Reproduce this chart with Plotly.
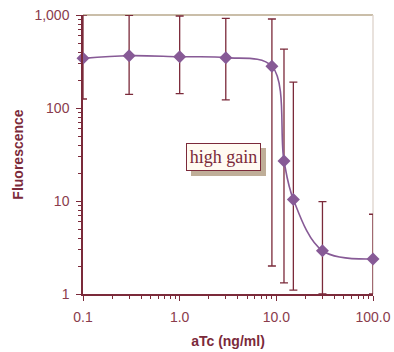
import plotly.graph_objects as go

atc = [0.1, 0.3, 1.0, 3.0, 9.0, 12.0, 15.0, 30.0, 100.0]
fluor = [342, 365, 356, 348, 281, 27, 10.4, 2.92, 2.38]
err_hi = [1000, 990, 975, 920, 906, 430, 190, 9.85, 7.2]
err_lo = [125, 140, 143, 122, 2.0, 1.32, 1.1, 1.0, 1.0]

plus = [h - v for h, v in zip(err_hi, fluor)]
minus = [v - l for l, v in zip(err_lo, fluor)]

maroon = "#7b2a3a"
label_col = "#8a3c4c"
purple = "#875a96"

fig = go.Figure()
fig.add_trace(go.Scatter(
    x=atc, y=fluor, mode="lines+markers",
    line=dict(color=purple, width=1.6, shape="spline", smoothing=1.0),
    marker=dict(symbol="diamond", size=10, color=purple),
    error_y=dict(type="data", symmetric=False, array=plus, arrayminus=minus,
                 color=maroon, thickness=1.3, width=4),
    cliponaxis=False, showlegend=False,
))

fig.update_layout(
    width=394, height=352,
    margin=dict(l=83, r=21, t=15, b=58, autoexpand=False),
    paper_bgcolor="white", plot_bgcolor="white",
    font=dict(family="Liberation Sans, Arial", color=label_col, size=14),
    xaxis=dict(
        type="log", range=[-1, 2], automargin=False,
        tickvals=[0.1, 1, 10, 100], ticktext=["0.1", "1.0", "10.0", "100.0"],
        showgrid=False, zeroline=False,
        showline=True, linecolor=maroon, linewidth=1.5,
        ticks="outside", ticklen=5, tickcolor=maroon, tickwidth=1.2,
        minor=dict(ticks="outside", ticklen=3, tickcolor=maroon, tickwidth=1,
                   tickvals=[0.2,0.3,0.4,0.5,0.6,0.7,0.8,0.9,2,3,4,5,6,7,8,9,20,30,40,50,60,70,80,90]),
        tickfont=dict(size=14, color=label_col),
        ticklabelstandoff=4,
        title=dict(text="<b>aTc (ng/ml)</b>", font=dict(size=14, color=maroon), standoff=13),
    ),
    yaxis=dict(
        type="log", range=[0, 3], automargin=False,
        tickvals=[1, 10, 100, 1000], ticktext=["1", "10", "100", "1,000"],
        showgrid=False, zeroline=False,
        showline=True, linecolor=maroon, linewidth=1.5,
        ticks="outside", ticklen=5, tickcolor=maroon, tickwidth=1.2,
        minor=dict(ticks="outside", ticklen=3, tickcolor=maroon, tickwidth=1,
                   tickvals=[2,3,4,5,6,7,8,9,20,30,40,50,60,70,80,90,200,300,400,500,600,700,800,900]),
        tickfont=dict(size=14, color=label_col),
        ticklabelstandoff=4,
        title=dict(text="<b>Fluorescence</b>", font=dict(size=14, color=maroon), standoff=8),
    ),
    shapes=[
        dict(type="line", xref="paper", yref="paper", x0=0, x1=1, y0=1, y1=1,
             line=dict(color="#b9a98c", width=1.3), layer="below"),
        dict(type="line", xref="paper", yref="paper", x0=1, x1=1, y0=0, y1=1,
             line=dict(color="#ddd3cb", width=1.3), layer="below"),
        dict(type="rect", xref="paper", yref="paper",
             x0=(191-83)/290, x1=(266-83)/290, y0=1-(176-15)/279, y1=1-(148-15)/279,
             fillcolor="#bfae98", line=dict(width=0)),
    ],
    annotations=[
        dict(xref="paper", yref="paper", x=(223.5-83)/290, y=1-(157-15)/279,
             text="high gain", showarrow=False,
             font=dict(family="Liberation Serif, Times New Roman, serif", size=18, color=maroon),
             bgcolor="#fffbf2", bordercolor=maroon, borderwidth=1, borderpad=1,
             width=71, height=24),
    ],
)

fig.write_html("out.html")
